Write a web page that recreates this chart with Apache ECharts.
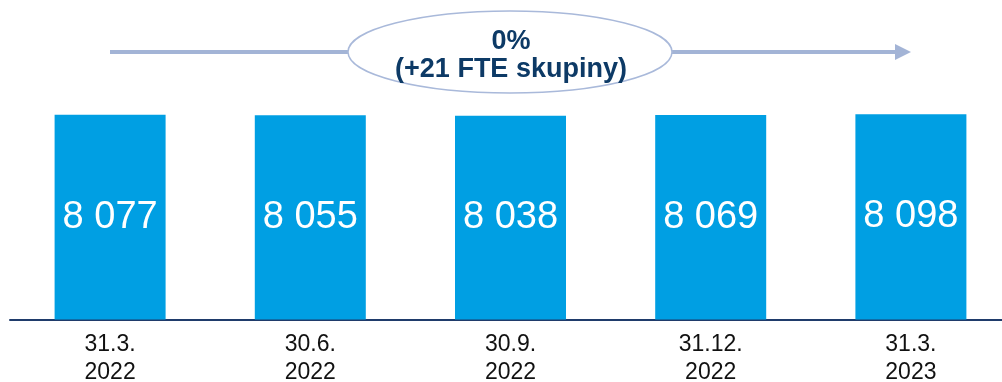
<!DOCTYPE html>
<html>
<head>
<meta charset="utf-8">
<style>
  html, body { margin: 0; padding: 0; background: #ffffff; }
  #chart { width: 1002px; height: 382px; }
</style>
<script src="https://cdn.jsdelivr.net/npm/echarts@6/dist/echarts.min.js"></script>
</head>
<body>
<div id="chart"></div>
<script>
// Headcount (FTE) at quarter ends
const categories = ['31.3.\n2022', '30.6.\n2022', '30.9.\n2022', '31.12.\n2022', '31.3.\n2023'];
const fteValues = [8077, 8055, 8038, 8069, 8098];
const changeLabel = ['0%', '(+21 FTE skupiny)'];

const fmt = v => String(v).replace(/\B(?=(\d{3})+(?!\d))/g, ' ');

const chart = echarts.init(document.getElementById('chart'), null, { renderer: 'canvas' });

chart.setOption({
  animation: false,
  backgroundColor: '#ffffff',
  grid: {
    left: 10, top: 66, width: 1001, height: 253.5,
    containLabel: false,
    outerBoundsMode: 'none'
  },
  xAxis: {
    type: 'category',
    data: categories,
    axisLine: { lineStyle: { color: '#1F3B6B', width: 2 } },
    axisTick: { show: false },
    axisLabel: {
      color: '#111111',
      fontFamily: 'Liberation Sans, Arial, sans-serif',
      fontSize: 23,
      lineHeight: 28,
      margin: 11
    }
  },
  yAxis: {
    type: 'value',
    min: 0,
    max: 10000,
    show: false,
    splitLine: { show: false }
  },
  series: [{
    type: 'bar',
    data: fteValues,
    barWidth: 111,
    itemStyle: { color: '#009FE3' },
    label: {
      show: true,
      position: 'inside',
      color: '#ffffff',
      fontFamily: 'Liberation Sans, Arial, sans-serif',
      fontSize: 38,
      formatter: p => fmt(p.value)
    }
  }],
  graphic: [
    {
      type: 'line',
      shape: { x1: 110, y1: 52, x2: 897, y2: 52 },
      style: { stroke: '#A3B4D6', lineWidth: 4 }
    },
    {
      type: 'polygon',
      shape: { points: [[895, 44], [911, 52], [895, 60]] },
      style: { fill: '#A3B4D6' }
    },
    {
      type: 'ellipse',
      shape: { cx: 510, cy: 52, rx: 162, ry: 41 },
      style: { fill: '#ffffff', stroke: '#A9B9DA', lineWidth: 1.5 }
    },
    {
      type: 'text',
      x: 511, y: 56,
      style: {
        text: changeLabel.join('\n'),
        fill: '#0D3A66',
        font: 'bold 27px "Liberation Sans", Arial, sans-serif',
        lineHeight: 28,
        align: 'center',
        verticalAlign: 'middle'
      }
    }
  ]
});
</script>
</body>
</html>
